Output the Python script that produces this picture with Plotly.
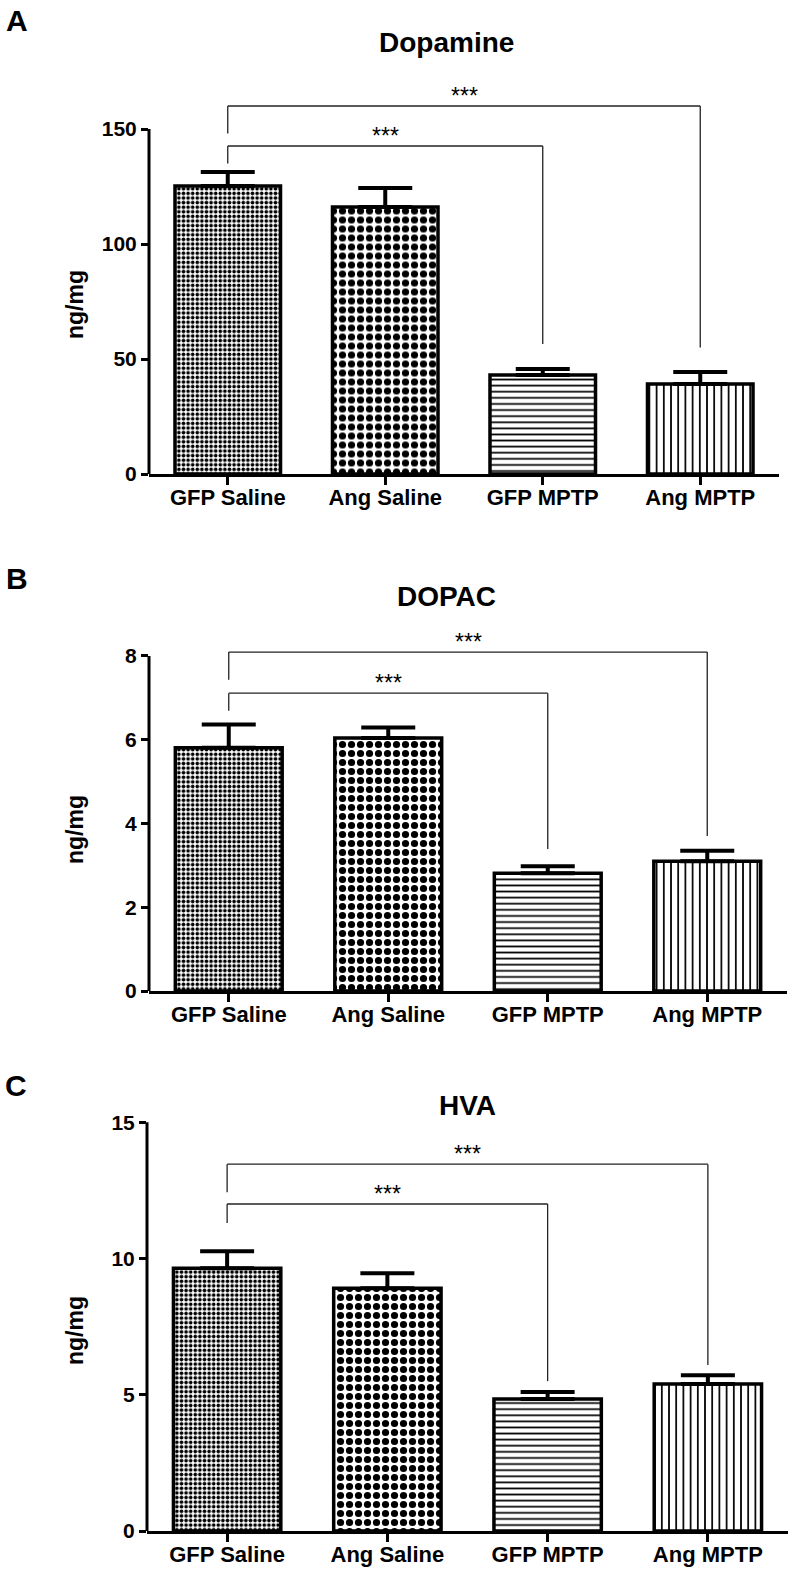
import plotly.graph_objects as go

categories = ["GFP Saline", "Ang Saline", "GFP MPTP", "Ang MPTP"]

# Panel A: Dopamine
dopamine_mean = [125.2, 116.1, 43.0, 39.1]
dopamine_err = [6.1, 8.2, 2.6, 5.2]
dopamine_ticks = [0, 50, 100, 150]
# brackets: (left index, right index, top, left-leg bottom, right-leg bottom)
dopamine_brackets = [(0, 2, 142.6, 135.0, 56.5), (0, 3, 160.0, 148.0, 55.0)]

# Panel B: DOPAC
dopac_mean = [5.81, 6.04, 2.81, 3.10]
dopac_err = [0.55, 0.25, 0.17, 0.25]
dopac_ticks = [0, 2, 4, 6, 8]
dopac_brackets = [(0, 2, 7.11, 6.69, 3.39), (0, 3, 8.09, 7.43, 3.70)]

# Panel C: HVA
hva_mean = [9.64, 8.91, 4.84, 5.39]
hva_err = [0.63, 0.55, 0.26, 0.33]
hva_ticks = [0, 5, 10, 15]
hva_brackets = [(0, 2, 12.0, 11.3, 5.5), (0, 3, 13.46, 12.43, 6.09)]

titles = ["Dopamine", "DOPAC", "HVA"]
letters = ["A", "B", "C"]
ylabel = "ng/mg"
star_text = "***"

FONT = "Arial, 'Liberation Sans', sans-serif"
W, H = 796, 1580

panels = [
    dict(mean=dopamine_mean, err=dopamine_err, ticks=dopamine_ticks, br=dopamine_brackets,
         yrange=[0, 175], xdom=[149 / W, 779 / W], ydom=[1 - 474 / H, 1 - 71.5 / H],
         title_xy=(446, 42), letter_xy=(17, 21), ylab_xy=(75, 305)),
    dict(mean=dopac_mean, err=dopac_err, ticks=dopac_ticks, br=dopac_brackets,
         yrange=[0, 9], xdom=[149 / W, 787 / W], ydom=[1 - 991 / H, 1 - 614 / H],
         title_xy=(446, 596), letter_xy=(17, 579), ylab_xy=(75, 830)),
    dict(mean=hva_mean, err=hva_err, ticks=hva_ticks, br=hva_brackets,
         yrange=[0, 16], xdom=[147 / W, 788 / W], ydom=[1 - 1531 / H, 1 - 1095 / H],
         title_xy=(467, 1105), letter_xy=(16, 1085), ylab_xy=(75, 1331)),
]

pattern_shapes = [".", ".", "-", "|"]
pattern_sizes = [4.6, 9.0, 6.1, 7.2]
pattern_solid = [0.5, 0.5, 0.28, 0.24]

fig = go.Figure()
shapes = []
annotations = []

for i, p in enumerate(panels):
    sfx = "" if i == 0 else str(i + 1)
    xref, yref = "x" + sfx, "y" + sfx
    fig.add_trace(go.Bar(
        x=categories, y=p["mean"], xaxis=xref, yaxis=yref, width=0.67,
        marker=dict(color="white",
                    line=dict(color="black", width=3.5),
                    pattern=dict(shape=pattern_shapes, size=pattern_sizes,
                                 solidity=pattern_solid, fgcolor="black",
                                 fgopacity=1, bgcolor="white", fillmode="replace")),
        error_y=dict(type="data", symmetric=False, array=p["err"],
                     arrayminus=[0] * len(p["err"]), color="black",
                     thickness=4, width=27),
        showlegend=False, hoverinfo="skip",
    ))
    fig.layout["xaxis" + sfx] = dict(
        domain=p["xdom"], anchor=yref, type="category",
        categoryorder="array", categoryarray=categories, range=[-0.5, 3.5],
        showline=True, linecolor="black", linewidth=3,
        ticks="outside", ticklen=8, tickwidth=3, tickcolor="black",
        ticklabelstandoff=-6, automargin=False,
        tickfont=dict(family=FONT, size=22, color="black", weight="bold"),
        showgrid=False, zeroline=False, fixedrange=True)
    fig.layout["yaxis" + sfx] = dict(
        domain=p["ydom"], anchor=xref, range=p["yrange"],
        tickvals=p["ticks"], ticktext=[str(t) for t in p["ticks"]],
        showline=False, ticks="outside", ticklen=7, tickwidth=3, tickcolor="black",
        automargin=False,
        tickfont=dict(family=FONT, size=21, color="black", weight="bold"),
        showgrid=False, zeroline=False, fixedrange=True)
    # y axis line from 0 up to top tick
    shapes.append(dict(type="line", xref=xref + " domain", yref=yref,
                       x0=0, x1=0, y0=p["ticks"][0], y1=p["ticks"][-1],
                       line=dict(color="black", width=3)))
    # significance brackets
    for (a, b, top, lb, rb) in p["br"]:
        lc = dict(color="#222222", width=1.3)
        shapes.append(dict(type="line", xref=xref, yref=yref, x0=a, x1=a, y0=lb, y1=top, line=lc))
        shapes.append(dict(type="line", xref=xref, yref=yref, x0=a, x1=b, y0=top, y1=top, line=lc))
        shapes.append(dict(type="line", xref=xref, yref=yref, x0=b, x1=b, y0=top, y1=rb, line=lc))
        annotations.append(dict(xref=xref, yref=yref, x=(a + b) / 2, y=top,
                                text=star_text, showarrow=False, yanchor="bottom",
                                yshift=-5,
                                font=dict(family=FONT, size=23, color="black")))
    tx, ty = p["title_xy"]
    annotations.append(dict(xref="paper", yref="paper", x=tx / W, y=1 - ty / H,
                            text="<b>%s</b>" % titles[i], showarrow=False,
                            xanchor="center", yanchor="middle",
                            font=dict(family=FONT, size=28, color="black")))
    lx, ly = p["letter_xy"]
    annotations.append(dict(xref="paper", yref="paper", x=lx / W, y=1 - ly / H,
                            text="<b>%s</b>" % letters[i], showarrow=False,
                            xanchor="center", yanchor="middle",
                            font=dict(family=FONT, size=30, color="black")))
    gx, gy = p["ylab_xy"]
    annotations.append(dict(xref="paper", yref="paper", x=gx / W, y=1 - gy / H,
                            text="<b>%s</b>" % ylabel, showarrow=False, textangle=-90,
                            xanchor="center", yanchor="middle",
                            font=dict(family=FONT, size=23, color="black")))

fig.update_layout(
    width=W, height=H, autosize=False,
    margin=dict(l=0, r=0, t=0, b=0, pad=0, autoexpand=False),
    paper_bgcolor="white", plot_bgcolor="white",
    shapes=shapes, annotations=annotations,
    hovermode=False, showlegend=False,
)

fig.write_html("out.html", config={"displayModeBar": False, "staticPlot": True},
               post_script="document.body.style.margin='0px';document.body.style.padding='0px';"
                           "document.body.style.overflow='hidden';"
                           "document.documentElement.style.overflow='hidden';")
